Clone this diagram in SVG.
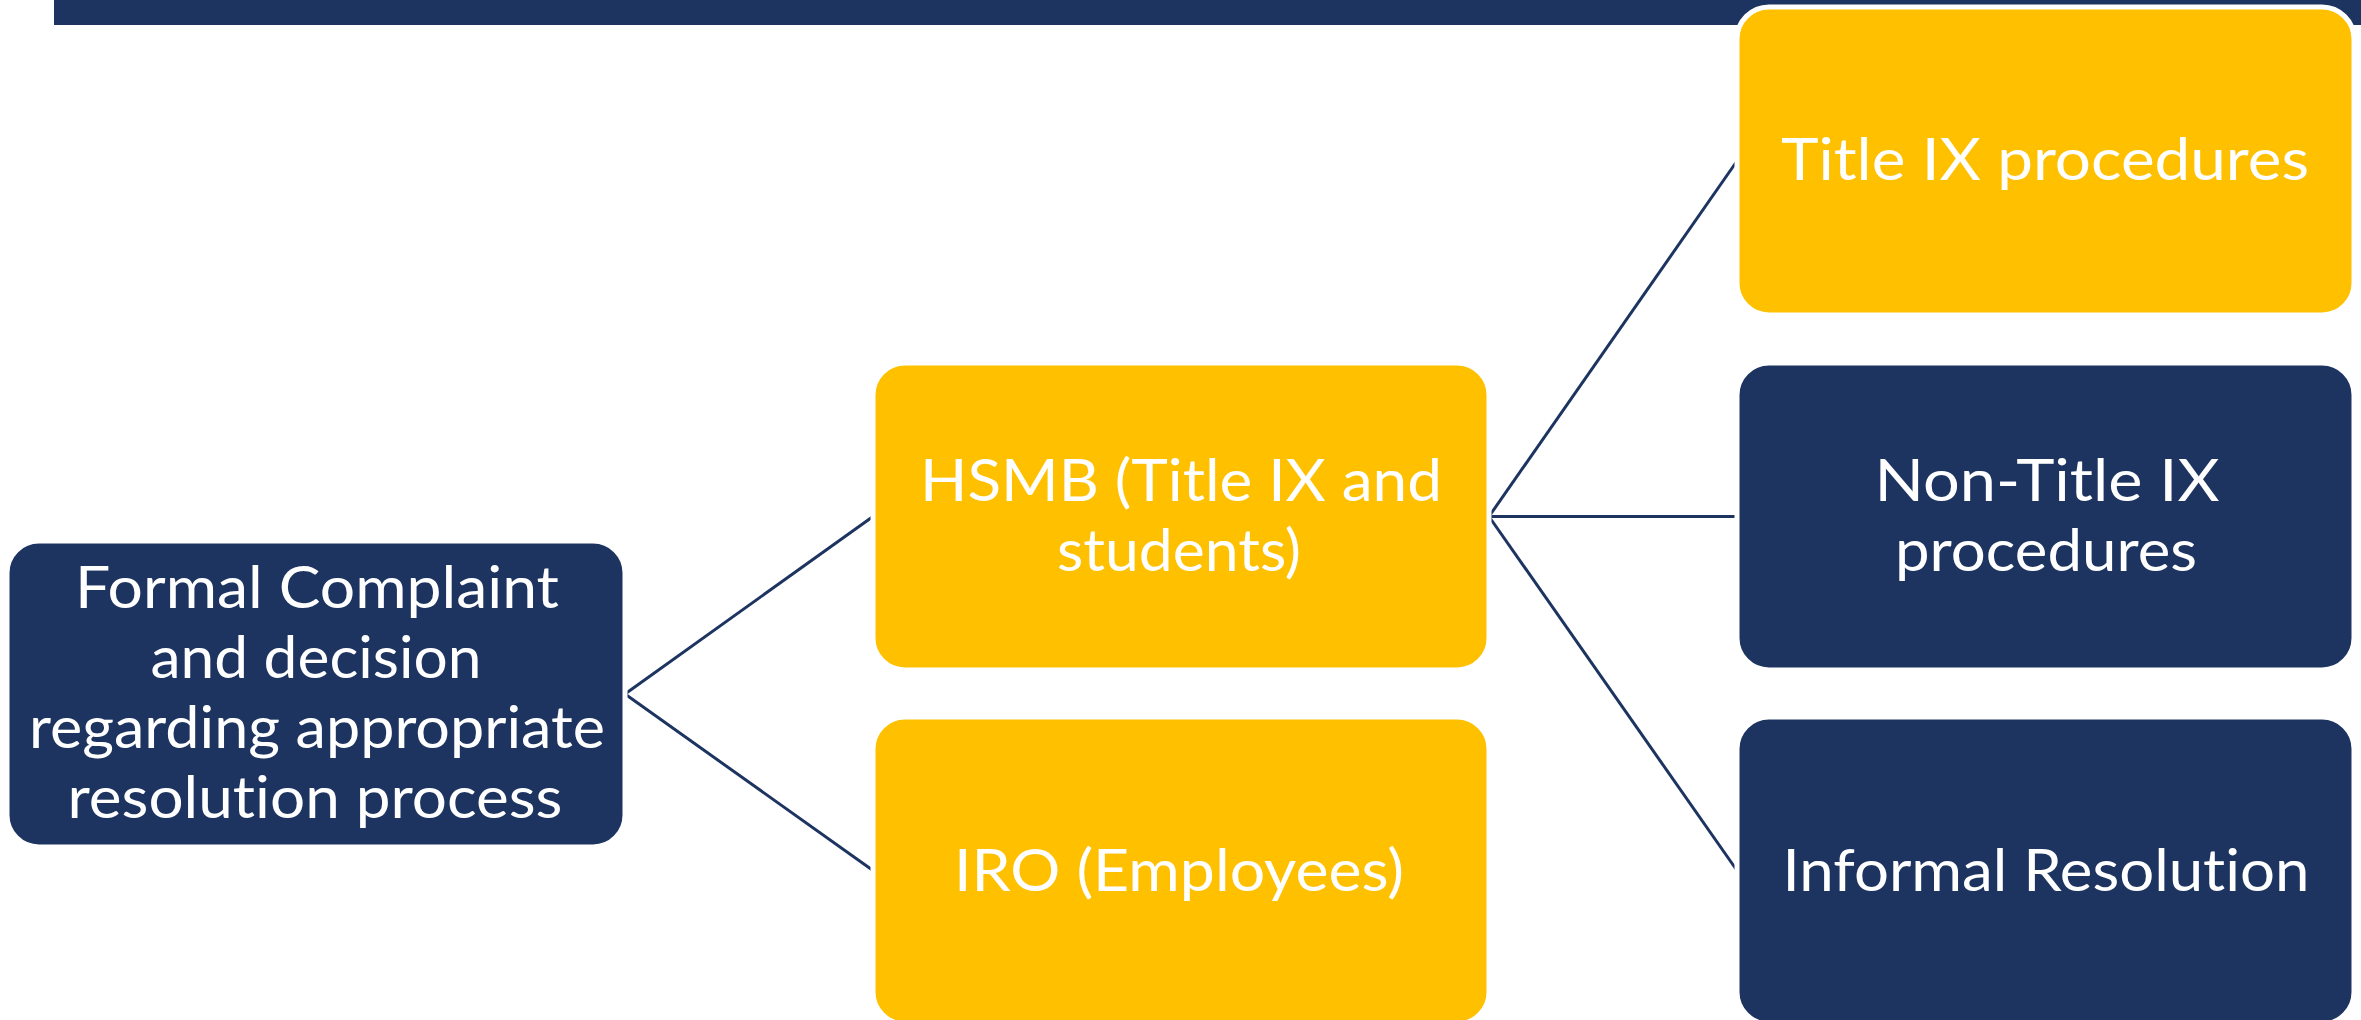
<svg xmlns="http://www.w3.org/2000/svg" width="2361" height="1020" viewBox="0 0 2361 1020">
  <style>
    .navy { fill: #1D3461; stroke: #FFFFFF; stroke-width: 5; }
    .gold { fill: #FFC000; stroke: #FFFFFF; stroke-width: 5; }
    .lbl { font-family: Lato, "Liberation Sans", sans-serif; font-size: 58px; fill: #FFFFFF; text-anchor: middle; font-variant-ligatures: none; }
    .conn { stroke: #1D3461; stroke-width: 3; fill: none; }
  </style>
  <rect x="0" y="0" width="2361" height="1020" fill="#FFFFFF"/>
  <rect id="topbar" x="54" y="0" width="2307" height="25" fill="#1D3461"/>
  <g id="connectors">
    <line class="conn" x1="625" y1="694" x2="873" y2="516.5"/>
    <line class="conn" x1="625" y1="694" x2="873" y2="870.5"/>
    <line class="conn" x1="1489" y1="516.5" x2="1737" y2="161"/>
    <line class="conn" x1="1489" y1="516.5" x2="1737" y2="516.5"/>
    <line class="conn" x1="1489" y1="516.5" x2="1737" y2="870.5"/>
  </g>
  <g id="node-formal">
    <rect class="navy" x="7" y="541" width="618" height="306" rx="32"/>
    <text class="lbl" x="317" y="608" textLength="484" lengthAdjust="spacingAndGlyphs">Formal Complaint</text>
    <text class="lbl" x="316" y="678" textLength="331" lengthAdjust="spacingAndGlyphs">and decision</text>
    <text class="lbl" x="317" y="748" textLength="576" lengthAdjust="spacingAndGlyphs">regarding appropriate</text>
    <text class="lbl" x="315" y="818" textLength="495" lengthAdjust="spacingAndGlyphs">resolution process</text>
  </g>
  <g id="node-hsmb">
    <rect class="gold" x="873" y="363" width="616" height="307" rx="32"/>
    <text class="lbl" x="1181" y="501" textLength="522" lengthAdjust="spacingAndGlyphs">HSMB (Title IX and</text>
    <text class="lbl" x="1179" y="571" textLength="244" lengthAdjust="spacingAndGlyphs">students)</text>
  </g>
  <g id="node-iro">
    <rect class="gold" x="873" y="717" width="616" height="307" rx="32"/>
    <text class="lbl" x="1179" y="891" textLength="450" lengthAdjust="spacingAndGlyphs">IRO (Employees)</text>
  </g>
  <g id="node-titleix">
    <rect class="gold" x="1737" y="7" width="617" height="308" rx="32"/>
    <text class="lbl" x="2045" y="180" textLength="528" lengthAdjust="spacingAndGlyphs">Title IX procedures</text>
  </g>
  <g id="node-nontitleix">
    <rect class="navy" x="1737" y="363" width="617" height="307" rx="32"/>
    <text class="lbl" x="2047" y="501" textLength="345" lengthAdjust="spacingAndGlyphs">Non-Title IX</text>
    <text class="lbl" x="2046" y="571" textLength="302" lengthAdjust="spacingAndGlyphs">procedures</text>
  </g>
  <g id="node-informal">
    <rect class="navy" x="1737" y="717" width="617" height="307" rx="32"/>
    <text class="lbl" x="2046" y="891" textLength="527" lengthAdjust="spacingAndGlyphs">Informal Resolution</text>
  </g>
</svg>
